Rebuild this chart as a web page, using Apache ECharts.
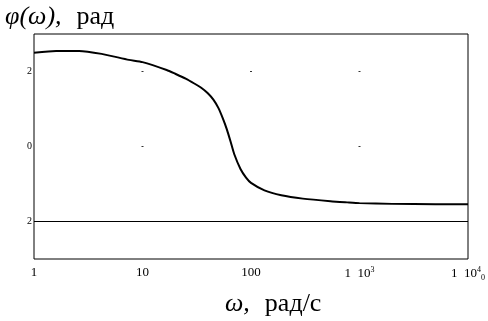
<!DOCTYPE html>
<html>
<head>
<meta charset="utf-8">
<script src="https://cdn.jsdelivr.net/npm/echarts@6/dist/echarts.min.js"></script>
<style>
  html, body { margin: 0; padding: 0; background: #fff; }
  #chart { width: 488px; height: 321px; }
</style>
</head>
<body>
<div id="chart"></div>
<script>
// частота, рад/с
var omega = [1, 1.6, 2.6, 4.2, 7.5, 10, 16.7, 20, 25, 30, 35, 40, 45, 50, 55, 60, 65, 70, 80, 90, 100, 133, 190, 300, 540, 770, 1000, 2000, 5000, 10000];
// фаза, рад
var phi = [2.50, 2.55, 2.55, 2.47, 2.31, 2.25, 2.04, 1.94, 1.81, 1.68, 1.56, 1.42, 1.25, 1.03, 0.75, 0.45, 0.12, -0.20, -0.60, -0.83, -0.97, -1.17, -1.30, -1.39, -1.46, -1.49, -1.51, -1.53, -1.54, -1.54];
// точки сетки
var gridDots = [[10, 2], [100, 2], [1000, 2], [10, 0], [1000, 0]];
var yTicks = [2, 0, -2];
var hLine = -2;

var serif = "Liberation Serif";
var curve = [];
for (var i = 0; i < omega.length; i++) {
  curve.push([omega[i], phi[i]]);
}

var myChart = echarts.init(document.getElementById("chart"));
myChart.setOption({
  animation: false,
  title: [
    {
      text: "{i|φ(ω),}   {r|рад}",
      left: 0,
      top: -1,
      textStyle: {
        rich: {
          i: { fontFamily: serif, fontSize: 26, fontStyle: "italic", fontWeight: "normal", color: "#000" },
          r: { fontFamily: serif, fontSize: 26, fontWeight: "normal", color: "#000" }
        }
      }
    },
    {
      text: "{i|ω,}   {r|рад/с}",
      left: 220,
      top: 286,
      textStyle: {
        rich: {
          i: { fontFamily: serif, fontSize: 26, fontStyle: "italic", fontWeight: "normal", color: "#000" },
          r: { fontFamily: serif, fontSize: 26, fontWeight: "normal", color: "#000" }
        }
      }
    }
  ],
  grid: {
    left: 34,
    right: 16,
    top: 34,
    bottom: 62,
    show: true,
    borderColor: "#000",
    borderWidth: 1
  },
  xAxis: {
    type: "log",
    logBase: 10,
    min: 1,
    max: 10000,
    axisLine: { show: false },
    axisTick: { show: false },
    splitLine: { show: false },
    axisLabel: {
      margin: 7,
      color: "#000",
      fontFamily: serif,
      fontSize: 13,
      formatter: function (v) {
        if (v >= 1000) {
          return "1  10{sup|" + Math.round(Math.log10(v)) + "}" + (v >= 10000 ? "{sub|0}" : "");
        }
        return String(v);
      },
      rich: {
        sup: { fontFamily: serif, fontSize: 8, verticalAlign: "top", padding: [0, 0, 8, 0], color: "#000" },
        sub: { fontFamily: serif, fontSize: 8, padding: [8, 0, 0, 0], color: "#000" }
      }
    }
  },
  yAxis: {
    type: "value",
    min: -3,
    max: 3,
    interval: 1,
    axisLine: { show: false },
    axisTick: { show: false },
    splitLine: { show: false },
    axisLabel: {
      margin: 2,
      color: "#000",
      fontFamily: serif,
      fontSize: 10,
      formatter: function (v) {
        return yTicks.indexOf(v) >= 0 ? String(Math.abs(v)) : "";
      }
    }
  },
  series: [
    {
      type: "line",
      data: curve,
      smooth: 0.2,
      symbol: "none",
      lineStyle: { color: "#000", width: 2 },
      markLine: {
        silent: true,
        symbol: "none",
        label: { show: false },
        lineStyle: { color: "#000", width: 1, type: "solid" },
        data: [{ yAxis: hLine }]
      }
    },
    {
      type: "scatter",
      data: gridDots,
      symbol: "rect",
      symbolSize: [2, 1],
      itemStyle: { color: "#000" },
      silent: true
    }
  ]
});
</script>
</body>
</html>
